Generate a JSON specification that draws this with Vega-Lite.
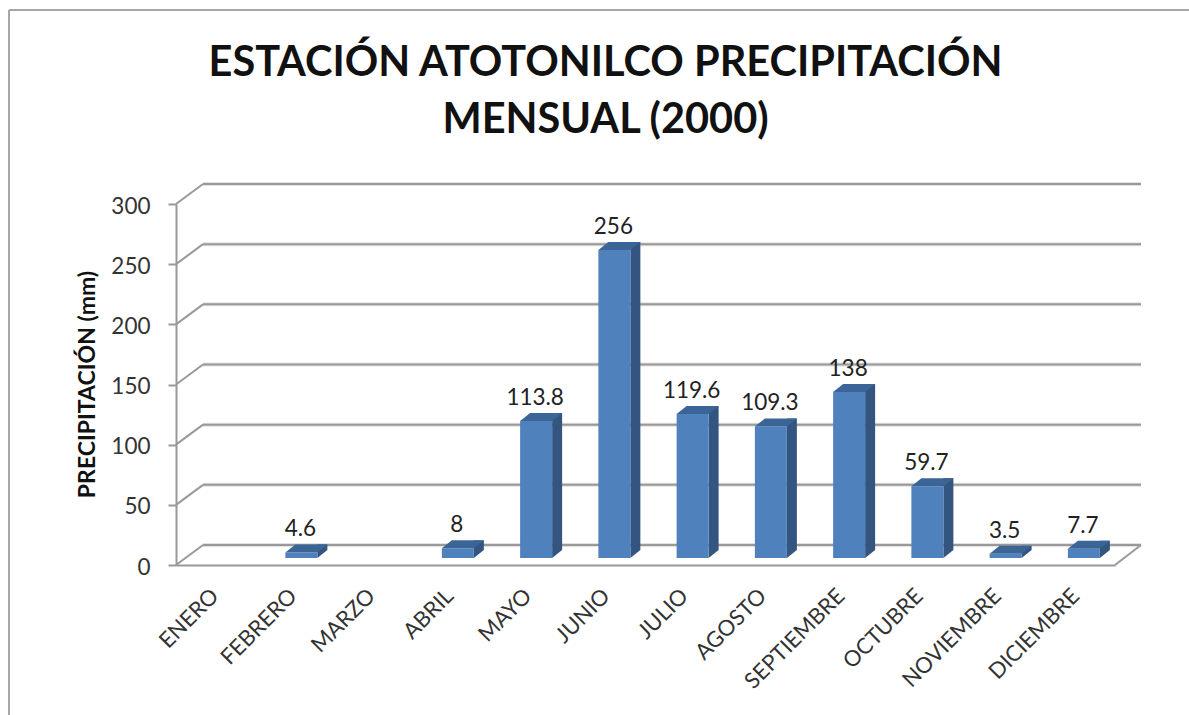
{
  "$schema": "https://vega.github.io/schema/vega-lite/v6.json",
  "width": 939,
  "height": 361,
  "autosize": "none",
  "padding": {"left": 176, "top": 204, "right": 74, "bottom": 150},
  "background": "white",
  "config": {"view": {"stroke": null}},
  "title": {
    "text": ["ESTACIÓN ATOTONILCO  PRECIPITACIÓN", "MENSUAL (2000)"],
    "font": "Lato", "fontSize": 41.5, "fontWeight": "bold", "color": "#111111",
    "lineHeight": 57, "anchor": "middle", "dx": -40, "offset": -165, "baseline": "alphabetic", "frame": "group"
  },
  "data": {"values": [
    {"mes": "FEBRERO", "precipitacion": 4.6},
    {"mes": "ABRIL", "precipitacion": 8},
    {"mes": "MAYO", "precipitacion": 113.8},
    {"mes": "JUNIO", "precipitacion": 256},
    {"mes": "JULIO", "precipitacion": 119.6},
    {"mes": "AGOSTO", "precipitacion": 109.3},
    {"mes": "SEPTIEMBRE", "precipitacion": 138},
    {"mes": "OCTUBRE", "precipitacion": 59.7},
    {"mes": "NOVIEMBRE", "precipitacion": 3.5},
    {"mes": "DICIEMBRE", "precipitacion": 7.7}
  ]},
  "datasets": {
    "ticks": [{"t": 0}, {"t": 50}, {"t": 100}, {"t": 150}, {"t": 200}, {"t": 250}, {"t": 300}]
  },
  "layer": [
    {
      "data": {"values": [{"a": 1}]},
      "mark": {"type": "rule", "color": "#a6a6a6", "strokeWidth": 2, "clip": false},
      "encoding": {"x": {"value": -167}, "x2": {"value": 1013}, "y": {"value": -194}}
    },
    {
      "data": {"values": [{"a": 1}]},
      "mark": {"type": "rule", "color": "#a6a6a6", "strokeWidth": 2, "clip": false},
      "encoding": {"x": {"value": -167}, "y": {"value": -194}, "y2": {"value": 511}}
    },
    {
      "data": {"name": "ticks"},
      "mark": {"type": "rule", "color": "#e2e2e2", "strokeWidth": 4, "yOffset": -20},
      "encoding": {
        "x": {"value": 27},
        "x2": {"value": 965},
        "y": {"field": "t", "type": "quantitative", "scale": {"domain": [0, 300], "nice": false},
          "axis": {
            "values": [0, 50, 100, 150, 200, 250, 300], "grid": false,
            "domainColor": "#999999", "domainWidth": 2, "tickColor": "#999999", "tickWidth": 2, "tickSize": 8,
            "labelFont": "Lato", "labelFontSize": 22.5, "labelColor": "#333333", "labelPadding": 18, "labelOffset": 2,
            "title": "PRECIPITACIÓN (mm)", "titleFont": "Lato", "titleFontSize": 23, "titleFontWeight": "bold", "titleColor": "#111111",
            "titleX": -77, "titleY": 180, "titleAnchor": "middle", "titleAlign": "center"
          }
        }
      }
    },
    {
      "data": {"name": "ticks"},
      "mark": {"type": "rule", "color": "#999999", "strokeWidth": 2, "yOffset": -20},
      "encoding": {"x": {"value": 27}, "x2": {"value": 965}, "y": {"field": "t", "type": "quantitative"}}
    },
    {
      "data": {"name": "ticks"},
      "mark": {"type": "point", "shape": "M0,0L1.35,-1", "size": 1600, "filled": false, "stroke": "#999999", "strokeWidth": 2, "opacity": 1},
      "encoding": {"x": {"value": 0}, "y": {"field": "t", "type": "quantitative"}}
    },
    {
      "data": {"values": [{"t": 0}]},
      "mark": {"type": "point", "shape": "M0,0L1.3,-1", "size": 1600, "filled": false, "stroke": "#999999", "strokeWidth": 2, "opacity": 1},
      "encoding": {"x": {"value": 939}, "y": {"field": "t", "type": "quantitative"}}
    },
    {
      "mark": {"type": "bar", "width": 10, "color": "#34557f", "xOffset": 29, "yOffset": -15, "y2Offset": -15},
      "encoding": {
        "x": {"field": "mes", "type": "nominal"},
        "y": {"field": "precipitacion", "type": "quantitative"},
        "y2": {"datum": 0}
      }
    },
    {
      "mark": {"type": "point", "shape": "M0,0L0.5,-0.4L0,-0.4Z", "size": 1600, "filled": true, "color": "#34557f", "strokeWidth": 0, "opacity": 1, "xOffset": 24, "yOffset": -7},
      "encoding": {
        "x": {"field": "mes", "type": "nominal"},
        "y": {"datum": 0, "type": "quantitative"}
      }
    },
    {
      "mark": {"type": "bar", "width": 32, "color": "#4f81bd", "xOffset": 8, "yOffset": -7, "y2Offset": -7},
      "encoding": {
        "x": {"field": "mes", "type": "nominal",
          "scale": {"domain": ["ENERO", "FEBRERO", "MARZO", "ABRIL", "MAYO", "JUNIO", "JULIO", "AGOSTO", "SEPTIEMBRE", "OCTUBRE", "NOVIEMBRE", "DICIEMBRE"], "paddingInner": 0, "paddingOuter": 0},
          "axis": {
            "title": null, "ticks": false, "domainColor": "#999999", "domainWidth": 2,
            "labelAngle": -45, "labelFont": "Lato", "labelFontSize": 22, "labelColor": "#333333", "labelPadding": 27, "labelAlign": "right", "labelBaseline": "middle", "labelOverlap": false
          }
        },
        "y": {"field": "precipitacion", "type": "quantitative"},
        "y2": {"datum": 0}
      }
    },
    {
      "mark": {"type": "point", "shape": "M-0.8,0L0.8,0L1.3,-0.4L-0.3,-0.4Z", "size": 1600, "filled": true, "color": "#3b6497", "strokeWidth": 0, "opacity": 1, "xOffset": 8, "yOffset": -7},
      "encoding": {
        "x": {"field": "mes", "type": "nominal"},
        "y": {"field": "precipitacion", "type": "quantitative"}
      }
    },
    {
      "mark": {"type": "text", "font": "Lato", "fontSize": 22.5, "color": "#222222", "dx": 7, "dy": -23, "baseline": "alphabetic", "align": "center"},
      "encoding": {
        "x": {"field": "mes", "type": "nominal"},
        "y": {"field": "precipitacion", "type": "quantitative"},
        "text": {"field": "precipitacion", "type": "quantitative"}
      }
    }
  ]
}
